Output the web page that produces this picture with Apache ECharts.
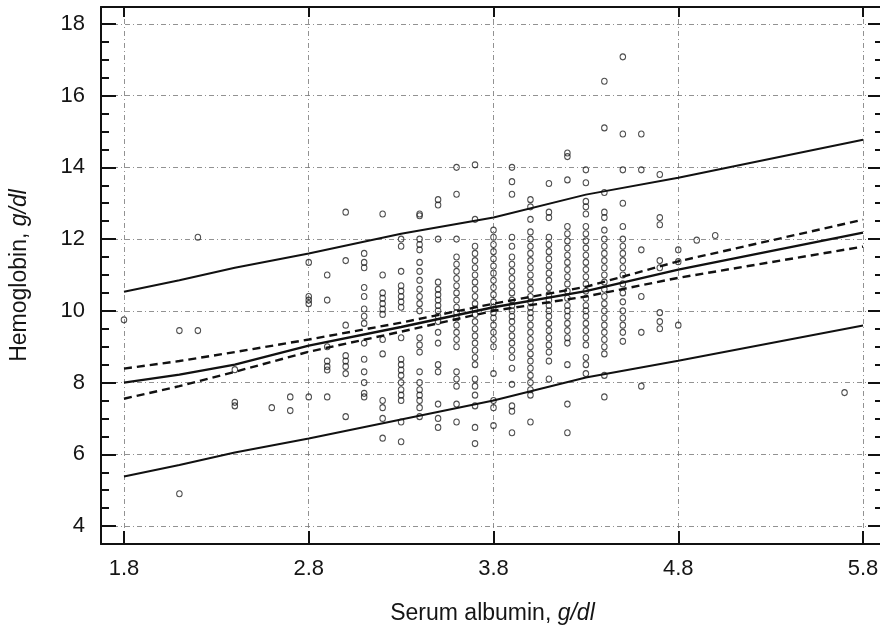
<!DOCTYPE html>
<html>
<head>
<meta charset="utf-8">
<title>Hemoglobin vs serum albumin</title>
<script src="https://cdn.jsdelivr.net/npm/echarts@6.0.0/dist/echarts.min.js"></script>
<style>
    html, body { margin: 0; padding: 0; background: #fff; overflow: hidden; }
    /* 比窗口宽 4px, 右边框落在画面外 */
    #main { width: 884px; height: 630px; }
</style>
</head>
<body>
<div id="main"></div>
<script>
/*====================数据====================*/
// 白蛋白取值(每列一个), 对应列里的血红蛋白读数
var albumin = [1.8, 2.1, 2.2, 2.4, 2.6, 2.7, 2.8, 2.9, 3.0, 3.1, 3.2, 3.3, 3.4, 3.5, 3.6, 3.7,
    3.8, 3.9, 4.0, 4.1, 4.2, 4.3, 4.4, 4.5, 4.6, 4.7, 4.8, 4.9, 5.0, 5.7];
var hemoglobin = [
    [9.75],
    [9.45, 4.9],
    [12.05, 9.45],
    [8.36, 7.45, 7.35],
    [7.3],
    [7.6, 7.22],
    [11.35, 10.4, 10.3, 10.2, 7.6],
    [11.0, 10.3, 9.0, 8.6, 8.45, 8.35, 7.6],
    [12.75, 11.4, 9.6, 8.75, 8.6, 8.45, 8.25, 7.05],
    [11.6, 11.35, 11.2, 10.65, 10.4, 10.05, 9.85, 9.65, 9.1, 8.65, 8.3, 8.0, 7.7, 7.6],
    [12.7, 11.0, 10.5, 10.35, 10.2, 10.05, 9.9, 9.2, 8.8, 7.5, 7.3, 7.0, 6.45],
    [12.0, 11.8, 11.1, 10.7, 10.55, 10.4, 10.25, 10.1, 9.25, 8.65, 8.5, 8.35, 8.2, 8.0, 7.8, 7.65, 7.5, 6.9, 6.35],
    [12.7, 12.65, 12.0, 11.85, 11.7, 11.35, 11.1, 10.85, 10.6, 10.4, 10.2, 10.0, 9.25, 9.05, 8.85, 8.3, 8.0, 7.8, 7.65, 7.5, 7.3, 7.05],
    [13.1, 12.95, 12.0, 10.8, 10.6, 10.45, 10.3, 10.15, 10.0, 9.85, 9.7, 9.4, 9.1, 8.5, 8.3, 7.4, 7.0, 6.75],
    [14.0, 13.25, 12.0, 11.5, 11.3, 11.1, 10.9, 10.7, 10.5, 10.3, 10.1, 9.95, 9.8, 9.6, 9.4, 9.2, 9.0, 8.3, 8.1, 7.9, 7.4, 6.9],
    [14.07, 12.55, 11.8, 11.6, 11.4, 11.2, 11.0, 10.8, 10.6, 10.4, 10.2, 10.05, 9.9, 9.7, 9.5, 9.3, 9.1, 8.9, 8.7, 8.5, 8.1, 7.9, 7.65, 7.35, 6.75, 6.3],
    [12.25, 12.05, 11.85, 11.65, 11.45, 11.25, 11.05, 10.85, 10.65, 10.45, 10.25, 10.1, 9.95, 9.8, 9.6, 9.4, 9.2, 9.0, 8.25, 7.5, 7.3, 6.8],
    [14.0, 13.6, 13.25, 12.05, 11.8, 11.5, 11.3, 11.1, 10.9, 10.7, 10.5, 10.3, 10.15, 10.0, 9.85, 9.7, 9.5, 9.3, 9.1, 8.9, 8.7, 8.4, 7.95, 7.35, 7.2, 6.6],
    [13.1, 12.9, 12.55, 12.2, 12.0, 11.8, 11.6, 11.4, 11.2, 11.0, 10.8, 10.6, 10.4, 10.25, 10.1, 9.95, 9.8, 9.6, 9.4, 9.2, 9.0, 8.8, 8.6, 8.4, 8.2, 8.0, 7.8, 7.65, 6.9],
    [13.55, 12.75, 12.6, 12.05, 11.85, 11.65, 11.45, 11.25, 11.05, 10.85, 10.65, 10.45, 10.3, 10.15, 10.0, 9.85, 9.65, 9.45, 9.25, 9.05, 8.85, 8.6, 8.1],
    [14.4, 14.3, 13.65, 12.35, 12.15, 11.95, 11.75, 11.55, 11.35, 11.15, 10.95, 10.75, 10.55, 10.35, 10.15, 10.0, 9.85, 9.65, 9.45, 9.25, 9.1, 8.5, 7.4, 6.6],
    [13.93, 13.57, 13.05, 12.9, 12.7, 12.35, 12.15, 11.95, 11.75, 11.55, 11.35, 11.15, 10.95, 10.75, 10.55, 10.35, 10.15, 10.0, 9.85, 9.65, 9.45, 9.25, 9.05, 8.7, 8.5, 8.25],
    [16.4, 15.1, 13.3, 12.75, 12.6, 12.25, 12.0, 11.8, 11.6, 11.4, 11.2, 11.0, 10.8, 10.6, 10.4, 10.2, 10.0, 9.8, 9.6, 9.4, 9.2, 9.0, 8.8, 8.2, 7.6],
    [17.08, 14.93, 13.93, 13.0, 12.35, 12.0, 11.8, 11.6, 11.4, 11.2, 11.0, 10.75, 10.5, 10.25, 10.0, 9.8, 9.6, 9.4, 9.15],
    [14.93, 13.93, 11.7, 10.4, 9.4, 7.9],
    [13.8, 12.6, 12.4, 11.4, 11.2, 9.95, 9.7, 9.5],
    [11.7, 11.37, 9.6],
    [11.97],
    [12.1],
    [7.72]
];

// 回归线 / 95%置信区间(虚线) / 预测区间
var fitAlbumin = [1.8, 2.1, 2.4, 2.8, 3.3, 3.8, 4.3, 4.8, 5.8];
var fitHb = [8.0, 8.22, 8.5, 9.03, 9.55, 10.1, 10.55, 11.15, 12.18];
var ciUpper = [8.39, 8.6, 8.85, 9.2, 9.67, 10.2, 10.67, 11.38, 12.54];
var ciLower = [7.55, 7.9, 8.3, 8.86, 9.42, 10.0, 10.4, 10.92, 11.79];
var predUpper = [10.53, 10.85, 11.2, 11.6, 12.15, 12.6, 13.24, 13.71, 14.77];
var predLower = [5.38, 5.7, 6.05, 6.44, 6.97, 7.5, 8.14, 8.61, 9.59];

// 刻度
var xTicks = [1.8, 2.8, 3.8, 4.8, 5.8];
var yTicks = [4, 6, 8, 10, 12, 14, 16, 18];

/*====================整理数据====================*/
var points = [];
for (var i = 0; i < albumin.length; i++) {
    for (var j = 0; j < hemoglobin[i].length; j++) {
        points.push([albumin[i], hemoglobin[i][j]]);
    }
}

function pairs(xs, ys) {
    var arr = [];
    for (var k = 0; k < xs.length; k++) {
        arr.push([xs[k], ys[k]]);
    }
    return arr;
}

/*====================echart====================*/
var FONT = '"Liberation Sans", Arial, sans-serif';
var X_MIN = 1.6757, X_MAX = 5.9135; // 5.8 落在 x=863, 右边框在 884 (画面外)
var Y_MIN = 3.5, Y_MAX = 18.47;
var gridLine = {
    show: true,
    lineStyle: { color: '#777', width: 1, type: [5, 3, 1, 3], opacity: 0.8 }
};
var frame = { show: true, onZero: false, lineStyle: { color: '#111', width: 2 } };
var titleRich = {
    n: { fontSize: 23, color: '#151515', fontFamily: FONT },
    i: { fontSize: 23, color: '#151515', fontFamily: FONT, fontStyle: 'italic' }
};

var myChart = echarts.init(document.getElementById('main'), null, { renderer: 'canvas' });
var option = {
    animation: false,
    backgroundColor: '#fff',
    grid: { left: 100, right: 0, top: 7, bottom: 85, containLabel: false },
    xAxis: [{
        type: 'value', position: 'bottom', min: X_MIN, max: X_MAX,
        axisLine: frame,
        axisTick: { inside: true, length: 13, customValues: xTicks, lineStyle: { color: '#111', width: 2 } },
        axisLabel: {
            customValues: xTicks, margin: 14, fontSize: 22, color: '#151515', fontFamily: FONT,
            formatter: function (v) { return v.toFixed(1); }
        },
        splitLine: gridLine,
        name: '{n|Serum albumin, }{i|g/dl}',
        nameLocation: 'middle', nameGap: 58,
        nameTextStyle: { rich: titleRich }
    }, {
        type: 'value', position: 'top', min: X_MIN, max: X_MAX,
        axisLine: frame,
        axisTick: { inside: true, length: 10, customValues: xTicks, lineStyle: { color: '#111', width: 2 } },
        axisLabel: { show: false },
        splitLine: { show: false }
    }],
    yAxis: [{
        // 左侧主刻度
        type: 'value', position: 'left', min: Y_MIN, max: Y_MAX,
        axisLine: frame,
        axisTick: { inside: true, length: 15, customValues: yTicks, lineStyle: { color: '#111', width: 2 } },
        axisLabel: { customValues: yTicks, margin: 16, fontSize: 22, color: '#151515', fontFamily: FONT },
        splitLine: gridLine,
        name: '{n|Hemoglobin, }{i|g/dl}',
        nameLocation: 'middle', nameGap: 70, nameRotate: 90,
        nameTextStyle: { rich: titleRich }
    }, {
        // 左侧小刻度
        type: 'value', position: 'left', min: Y_MIN, max: Y_MAX, interval: 0.5,
        axisLine: { show: false },
        axisTick: { inside: true, length: 8, lineStyle: { color: '#111', width: 2 } },
        axisLabel: { show: false },
        splitLine: { show: false }
    }, {
        // 右侧主刻度
        type: 'value', position: 'right', min: Y_MIN, max: Y_MAX,
        axisLine: frame,
        axisTick: { inside: true, length: 16, customValues: yTicks, lineStyle: { color: '#111', width: 2 } },
        axisLabel: { show: false },
        splitLine: { show: false }
    }, {
        // 右侧小刻度
        type: 'value', position: 'right', min: Y_MIN, max: Y_MAX, interval: 0.5,
        axisLine: { show: false },
        axisTick: { inside: true, length: 9, lineStyle: { color: '#111', width: 2 } },
        axisLabel: { show: false },
        splitLine: { show: false }
    }],
    series: [{
        name: 'patients',
        type: 'scatter',
        symbol: 'circle',
        symbolSize: [5.5, 6],
        silent: true,
        itemStyle: { color: 'rgba(255,255,255,0)', borderColor: '#222', borderWidth: 1.1 },
        data: points,
        z: 2
    }, {
        name: 'fit',
        type: 'line', showSymbol: false, silent: true,
        lineStyle: { color: '#111', width: 2.4 },
        data: pairs(fitAlbumin, fitHb),
        z: 4
    }, {
        name: 'ci upper',
        type: 'line', showSymbol: false, silent: true,
        lineStyle: { color: '#111', width: 2.4, type: [8, 5] },
        data: pairs(fitAlbumin, ciUpper),
        z: 4
    }, {
        name: 'ci lower',
        type: 'line', showSymbol: false, silent: true,
        lineStyle: { color: '#111', width: 2.4, type: [8, 5] },
        data: pairs(fitAlbumin, ciLower),
        z: 4
    }, {
        name: 'pred upper',
        type: 'line', showSymbol: false, silent: true,
        lineStyle: { color: '#111', width: 2 },
        data: pairs(fitAlbumin, predUpper),
        z: 4
    }, {
        name: 'pred lower',
        type: 'line', showSymbol: false, silent: true,
        lineStyle: { color: '#111', width: 2 },
        data: pairs(fitAlbumin, predLower),
        z: 4
    }]
};
myChart.setOption(option);
</script>
</body>
</html>
